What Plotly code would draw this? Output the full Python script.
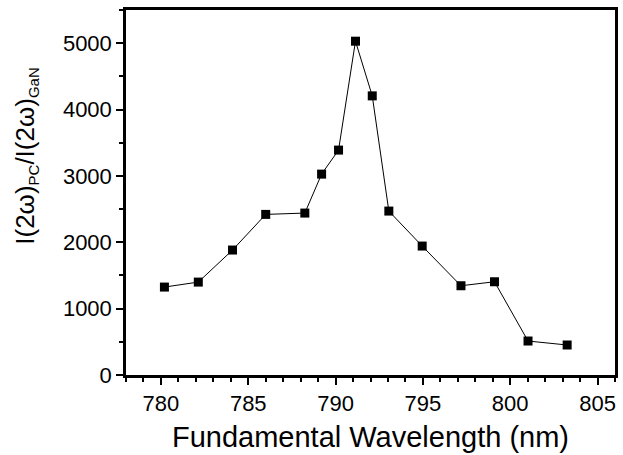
import plotly.graph_objects as go

wavelength = [780.2, 782.14, 784.1, 786.0, 788.24, 789.2, 790.17, 791.14, 792.1,
              793.05, 794.96, 797.18, 799.1, 801.02, 803.26]
ratio = [1325, 1400, 1883, 2420, 2440, 3027, 3389, 5030, 4206,
         2470, 1943, 1345, 1405, 512, 452]

x_ticks = [780, 785, 790, 795, 800, 805]
y_ticks = [0, 1000, 2000, 3000, 4000, 5000]

x_title = "Fundamental Wavelength (nm)"
y_title = ("I(2ω)<sub><span style='font-size:15px'>PC</span></sub>"
           "/I(2ω)<sub><span style='font-size:15px'>GaN</span></sub>")

FONT = "Liberation Sans, Arial, sans-serif"

fig = go.Figure()
fig.add_trace(go.Scatter(
    x=wavelength, y=ratio, mode="lines+markers",
    line=dict(color="black", width=1),
    marker=dict(symbol="square", size=9, color="black"),
    showlegend=False,
))

axis_common = dict(
    showgrid=False, zeroline=False, showline=True, linecolor="black", linewidth=2.5,
    mirror=True, ticks="outside", ticklen=7, tickwidth=2, tickcolor="black",
    tickfont=dict(family=FONT, size=22, color="black"),
)

fig.update_xaxes(
    range=[778, 806], tickvals=x_ticks,
    minor=dict(dtick=1, tick0=780, ticks="outside", ticklen=4, tickwidth=2, tickcolor="black"),
    title=dict(text=x_title, font=dict(family=FONT, size=29, color="black"), standoff=12),
    **axis_common,
)
fig.update_yaxes(
    range=[0, 5500], tickvals=y_ticks,
    minor=dict(dtick=500, tick0=0, ticks="outside", ticklen=4, tickwidth=2, tickcolor="black"),
    **axis_common,
)

fig.add_annotation(
    text=y_title, xref="paper", yref="paper", x=-0.205, y=0.60,
    xanchor="center", yanchor="middle", textangle=-90, showarrow=False,
    font=dict(family=FONT, size=26, color="black"),
)

fig.update_layout(
    width=623, height=455,
    margin=dict(l=126, r=5, t=10, b=80),
    paper_bgcolor="white", plot_bgcolor="white",
)

fig.write_html("out.html")
